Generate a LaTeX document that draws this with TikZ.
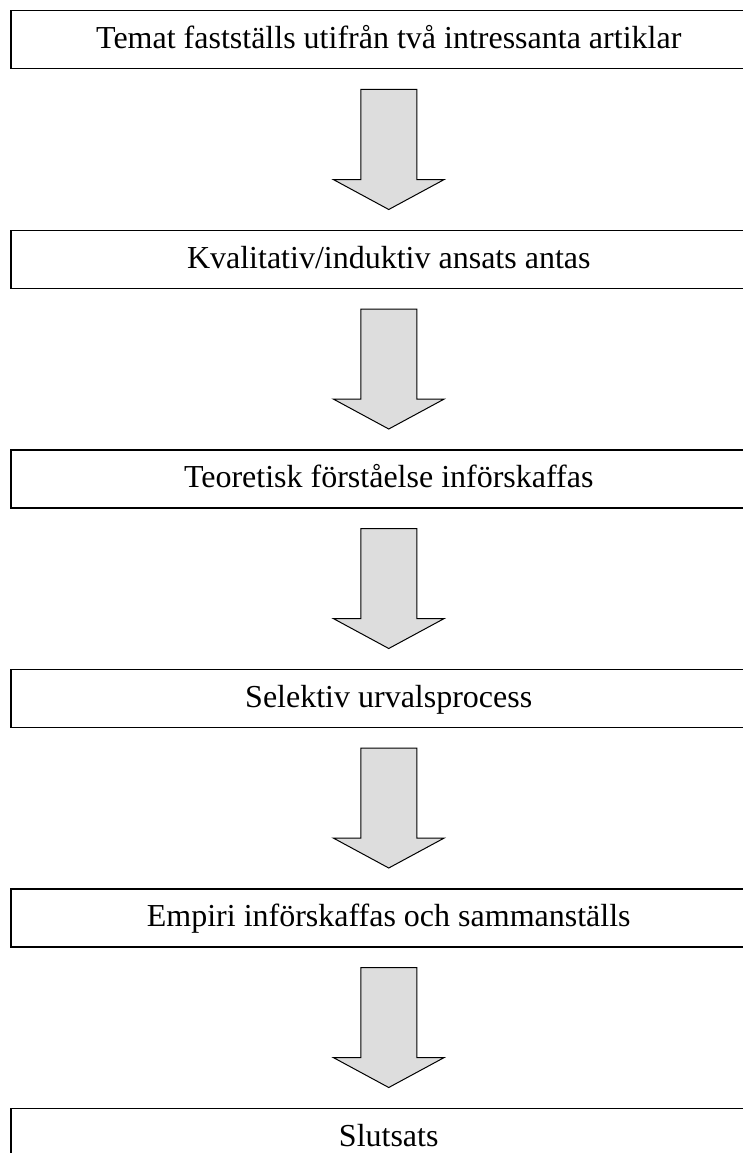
\documentclass[tikz,border=0pt]{standalone}
\usepackage{fontspec}
\setmainfont{Liberation Serif}
\usetikzlibrary{positioning}
\definecolor{arrowgray}{HTML}{DDDDDD}
\tikzset{
  stepbox/.style={draw=black, line width=1.5pt, rectangle, anchor=north west,
    minimum width=756pt, minimum height=58pt, inner sep=0pt,
    text height=18pt, text depth=0pt,
    font=\fontsize{32pt}{36pt}\selectfont},
  bigarrow/.style={draw=black, line width=1pt, fill=arrowgray, line join=miter}
}
\begin{document}
\begin{tikzpicture}[x=1pt,y=-1pt]
\useasboundingbox (0,0) rectangle (743,1153);
\clip (0,0) rectangle (743,1153);
\node[stepbox] (b1) at (10,10) {Temat fastställs utifrån två intressanta artiklar};
\node[stepbox, below=160pt of b1.south west, anchor=north west] (b2) {Kvalitativ/induktiv ansats antas};
\node[stepbox, below=160pt of b2.south west, anchor=north west] (b3) {Teoretisk förståelse införskaffas};
\node[stepbox, below=160pt of b3.south west, anchor=north west] (b4) {Selektiv urvalsprocess};
\node[stepbox, below=160pt of b4.south west, anchor=north west] (b5) {Empiri införskaffas och sammanställs};
\node[stepbox, below=160pt of b5.south west, anchor=north west] (b6) {Slutsats};
\foreach \a in {b1,b2,b3,b4,b5}{
  \draw[bigarrow] ([xshift=-28pt,yshift=-20pt]\a.south)
    -- ([xshift=28pt,yshift=-20pt]\a.south)
    -- ([xshift=28pt,yshift=-110pt]\a.south)
    -- ([xshift=55.5pt,yshift=-110pt]\a.south)
    -- ([yshift=-140pt]\a.south)
    -- ([xshift=-55.5pt,yshift=-110pt]\a.south)
    -- ([xshift=-28pt,yshift=-110pt]\a.south)
    -- cycle;
}
\end{tikzpicture}
\end{document}
